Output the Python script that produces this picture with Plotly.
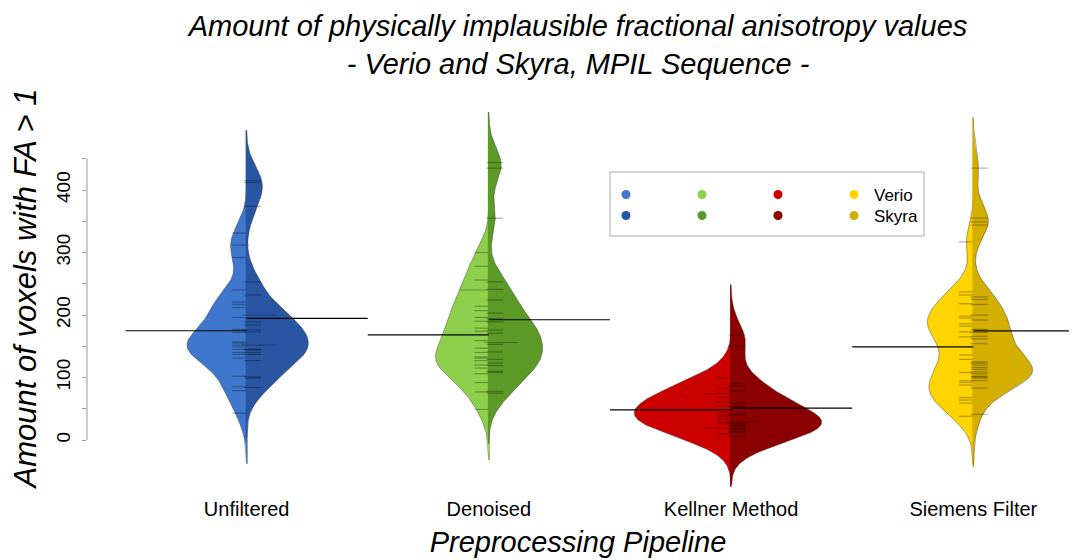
import numpy as np
import plotly.graph_objects as go

# ---------------- data ----------------
categories = ["Unfiltered", "Denoised", "Kellner Method", "Siemens Filter"]

verio_unfiltered = [331, 312, 292, 240, 221, 217, 212, 196, 177, 172, 157, 155, 152,
                    149, 145, 140, 137, 131, 102, 85, 79, 43]
skyra_unfiltered = [415, 412, 374, 253, 232, 200, 200, 189, 184, 176, 173, 152, 152,
                    145, 144, 140, 137, 127, 101, 99, 84]
verio_denoised = [300, 278, 256, 240, 240, 214, 207, 196, 190, 179, 174, 159, 147,
                  140, 133, 131, 127, 120, 115, 106, 92, 77, 49]
skyra_denoised = [444, 435, 355, 253, 241, 224, 203, 194, 189, 176, 171, 156, 156,
                  153, 141, 129, 123, 119, 110, 108, 78, 75]
verio_kellner = [99, 83, 74, 74, 68, 61, 54, 44, 40, 37, 33, 29, 26, 19, 19, 10]
skyra_kellner = [168, 150, 90, 86, 79, 59, 54, 42, 40, 29, 29, 26, 24, 22, 19, 17,
                 14, 12, 6]
verio_siemens = [317, 237, 232, 218, 198, 195, 186, 182, 173, 165, 136, 129, 108,
                 95, 92, 88, 68, 64, 59, 38]
skyra_siemens = [435, 355, 349, 344, 229, 225, 217, 200, 192, 177, 172, 166, 162,
                 154, 125, 123, 120, 116, 113, 109, 106, 102, 101, 99, 95, 83, 41]

verio_data = [verio_unfiltered, verio_denoised, verio_kellner, verio_siemens]
skyra_data = [skyra_unfiltered, skyra_denoised, skyra_kellner, skyra_siemens]

y_tick_values = [0, 50, 100, 150, 200, 250, 300, 350, 400, 450]
y_tick_labels = ["0", "", "100", "", "200", "", "300", "", "400", ""]

# ---------------- styling ----------------
verio_colors = ["#3F77CC", "#8ECF4B", "#CC0000", "#FFD400"]
skyra_colors = ["#2856A3", "#5C9A27", "#8B0000", "#D4AF00"]
FONT = "Liberation Sans, Arial, Helvetica, sans-serif"
BW = 27          # gaussian kernel bandwidth (shared by all beans)
CUT = 3          # density drawn to CUT bandwidths beyond the extremes
HALF_MAX = 0.4   # widest half-bean, in category units
TICK_PX = 12     # length of one bean line in pixels

OFF = 8          # page body margin around the figure div
W, H = 1084 - OFF, 560 - OFF
L, R, T, B = 79, 15, 80, 72
pw, ph = W - L - R, H - T - B
X_RANGE = [-0.659, 3.395]
Y_RANGE = [-76.8, 563.2]
unit_px = pw / (X_RANGE[1] - X_RANGE[0])
SEAM = 1.0 / unit_px   # 1 px overlap so the two halves meet without a gap


def kde(values):
    v = np.asarray(values, dtype=float)
    grid = np.linspace(v.min() - CUT * BW, v.max() + CUT * BW, 300)
    z = (grid[:, None] - v[None, :]) / BW
    dens = np.exp(-0.5 * z ** 2).sum(axis=1) / (len(v) * BW * np.sqrt(2 * np.pi))
    return grid, dens


densities = [[kde(d) for d in verio_data], [kde(d) for d in skyra_data]]
global_max = max(dens.max() for side in densities for _, dens in side)

fig = go.Figure()


def add_half(pos, values, grid, dens, color, sign):
    width = HALF_MAX * dens / global_max
    edge = pos + sign * width
    inner = pos - sign * SEAM
    # filled body (slightly overlapping the centre line)
    fig.add_trace(go.Scatter(
        x=np.concatenate([[inner], edge, [inner]]),
        y=np.concatenate([[grid[0]], grid, [grid[-1]]]),
        mode="lines", fill="toself", fillcolor=color,
        line=dict(width=0), showlegend=False, hoverinfo="skip"))
    # outline of the density
    fig.add_trace(go.Scatter(
        x=np.concatenate([[pos], edge, [pos]]),
        y=np.concatenate([[grid[0]], grid, [grid[-1]]]),
        mode="lines", line=dict(color="rgba(60,60,60,0.75)", width=0.6),
        showlegend=False, hoverinfo="skip"))
    # bean lines: one short line per observation, longer for repeated values
    vals, counts = np.unique(np.asarray(values, dtype=float), return_counts=True)
    sizes = TICK_PX * counts
    offs = pos + sign * (sizes / 2.0) / unit_px
    fig.add_trace(go.Scatter(
        x=offs, y=vals, mode="markers",
        marker=dict(symbol="line-ew", size=sizes, color="rgba(0,0,0,0.4)",
                    line=dict(width=1.2, color="rgba(0,0,0,0.42)")),
        showlegend=False, hoverinfo="y"))


for i in range(len(categories)):
    g, d = densities[0][i]
    add_half(i, verio_data[i], g, d, verio_colors[i], -1)
    g, d = densities[1][i]
    add_half(i, skyra_data[i], g, d, skyra_colors[i], +1)

# bean mean lines
for i in range(len(categories)):
    mv = float(np.mean(verio_data[i]))
    ms = float(np.mean(skyra_data[i]))
    fig.add_trace(go.Scatter(x=[i - 0.5, i], y=[mv, mv], mode="lines",
                             line=dict(color="black", width=1.2),
                             showlegend=False, hoverinfo="skip"))
    fig.add_trace(go.Scatter(x=[i, i + 0.5], y=[ms, ms], mode="lines",
                             line=dict(color="black", width=1.2),
                             showlegend=False, hoverinfo="skip"))

# legend entries: unlabeled dots for the first three pipelines, labeled last column
n_cat = len(categories)
for i in range(n_cat):
    last = i == n_cat - 1
    fig.add_trace(go.Scatter(x=[None], y=[None], mode="markers",
                             marker=dict(color=verio_colors[i], size=9),
                             name="Verio" if last else "",
                             legend="legend3" if last else "legend",
                             showlegend=True))
for i in range(n_cat):
    last = i == n_cat - 1
    fig.add_trace(go.Scatter(x=[None], y=[None], mode="markers",
                             marker=dict(color=skyra_colors[i], size=9),
                             name="Skyra" if last else "",
                             legend="legend4" if last else "legend2",
                             showlegend=True))


def px_x(p):  # page pixel -> paper x
    return (p - OFF - L) / pw


def px_y(p):  # page pixel -> paper y
    return (H - B - (p - OFF)) / ph


legend_common = dict(orientation="h", xanchor="left", yanchor="top",
                     bgcolor="rgba(0,0,0,0)", borderwidth=0,
                     font=dict(family=FONT, size=17, color="black"),
                     itemwidth=30, traceorder="normal")
dots = dict(entrywidth=31, entrywidthmode="pixels", **legend_common)

fig.update_layout(
    width=W, height=H,
    margin=dict(l=L, r=R, t=T, b=B, pad=0, autoexpand=False),
    paper_bgcolor="white", plot_bgcolor="white",
    font=dict(family=FONT, color="black"),
    title=dict(
        text="Amount of physically implausible fractional anisotropy values<br>- Verio and Skyra, MPIL Sequence -",
        font=dict(family=FONT, size=29, style="italic", color="black"),
        x=0.5, xref="paper", xanchor="center",
        y=1 - 28 / H, yref="container", yanchor="top", automargin=False,
    ),
    xaxis=dict(
        range=X_RANGE, tickvals=list(range(n_cat)),
        ticktext=categories, showgrid=False, zeroline=False, showline=False,
        ticks="", tickfont=dict(family=FONT, size=20, color="black"),
        ticklabelstandoff=7, automargin=False,
        title=dict(text="Preprocessing Pipeline",
                   font=dict(family=FONT, size=29, style="italic", color="black"),
                   standoff=12),
    ),
    yaxis=dict(
        range=Y_RANGE, tickvals=y_tick_values, ticktext=y_tick_labels,
        tickangle=-90, showgrid=False, zeroline=False, showline=False,
        ticks="outside", ticklen=4, tickcolor="#999999", tickwidth=1,
        tickfont=dict(family=FONT, size=19, color="black"),
        ticklabelstandoff=4, automargin=False,
        title=dict(text="Amount of voxels with FA > 1",
                   font=dict(family=FONT, size=31, style="italic", color="black"),
                   standoff=11),
    ),
    legend=dict(x=px_x(606), y=px_y(177), **dots),
    legend2=dict(x=px_x(606), y=px_y(198), **dots),
    legend3=dict(x=px_x(834), y=px_y(177), **legend_common),
    legend4=dict(x=px_x(834), y=px_y(198), **legend_common),
    shapes=[
        dict(type="line", xref="paper", yref="y", x0=0, x1=0,
             y0=min(y_tick_values), y1=max(y_tick_values),
             line=dict(color="#999999", width=1)),
        dict(type="rect", xref="paper", yref="paper",
             x0=px_x(610), x1=px_x(924), y0=px_y(236), y1=px_y(172),
             line=dict(color="#AAAAAA", width=1), fillcolor="rgba(0,0,0,0)"),
    ],
)

fig.write_html("out.html")
